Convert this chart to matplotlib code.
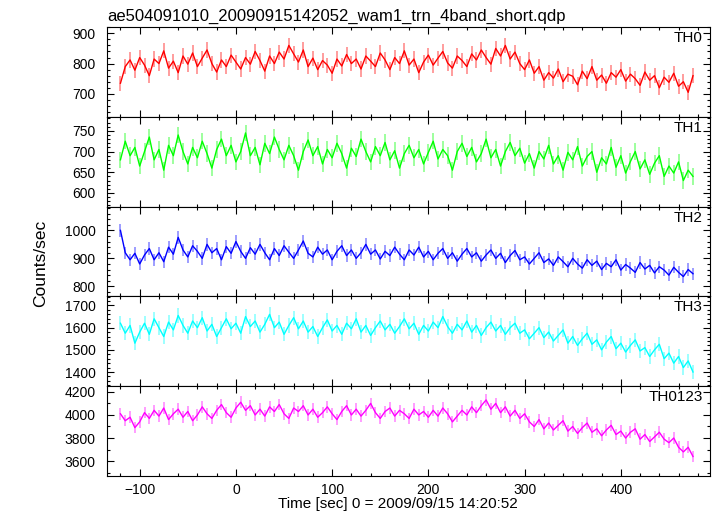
import numpy as np
import matplotlib
matplotlib.use('Agg')
import matplotlib.pyplot as plt
from matplotlib.ticker import MultipleLocator

plt.rcParams['font.family'] = ['Liberation Sans', 'DejaVu Sans']
plt.rcParams['font.size'] = 10

# light curve bins (5 s), start time in seconds
t_start = -120.0
t_bin = 5.0

th0 = [735, 790, 812, 778, 820, 795, 760, 815, 800, 842, 785, 808, 770, 825, 798, 835,
       790, 818, 845, 800, 772, 812, 790, 828, 805, 782, 820, 798, 840, 810, 775, 825,
       800, 838, 815, 860, 832, 805, 845, 790, 818, 780, 810, 795, 768, 815, 792, 830,
       800, 815, 782, 825, 808, 790, 835, 812, 780, 820, 800, 842, 795, 815, 770, 805,
       828, 795, 818, 840, 802, 785, 825, 810, 790, 832, 812, 845, 820, 798, 850, 825,
       860, 815, 838, 800, 780, 812, 768, 790, 745, 770, 752, 782, 740, 765, 758, 730,
       775, 750, 790, 745, 762, 735, 770, 755, 780, 742, 765, 750, 728, 772, 745, 760,
       720, 755, 738, 768, 725, 740, 705, 760]

th1 = [680, 725, 690, 710, 665, 700, 735, 680, 705, 655, 715, 690, 740, 700, 670, 710,
       685, 725, 695, 660, 705, 730, 690, 715, 675, 700, 745, 690, 710, 668, 720, 695,
       735, 705, 680, 715, 690, 655, 700, 728, 690, 712, 670, 705, 685, 720, 695, 660,
       708, 688, 730, 700, 675, 712, 690, 722, 680, 702, 660, 695, 715, 685, 705, 670,
       698, 725, 682, 705, 690, 655, 700, 720, 688, 710, 675, 695, 730, 685, 705, 665,
       700, 722, 690, 708, 672, 695, 660, 700, 682, 715, 670, 690, 655, 698, 680, 712,
       665, 688, 700, 650, 685, 670, 710, 662, 690, 648, 676, 700, 658, 680, 645, 672,
       690, 640, 665, 648, 675, 630, 655, 640]

th2 = [1000, 920, 895, 918, 880, 912, 935, 895, 920, 888, 940, 915, 975, 930, 905, 945,
       925, 900, 950, 920, 935, 895, 942, 918, 960, 925, 900, 938, 915, 950, 920, 895,
       935, 910, 945, 922, 900, 930, 962, 918, 905, 940, 915, 930, 895, 925, 945, 910,
       930, 900, 920, 950, 915, 930, 898, 925, 910, 940, 915, 895, 930, 912, 940, 905,
       925, 895, 918, 935, 900, 920, 890, 915, 935, 905, 920, 890, 912, 930, 900, 918,
       885, 910, 928, 895, 905, 880, 900, 920, 885, 898, 875, 905, 888, 870, 900, 880,
       865, 895, 875, 890, 860, 882, 870, 895, 858, 878, 865, 850, 885, 862, 875, 848,
       870, 858, 840, 868, 850, 835, 860, 845]

th3 = [1620, 1575, 1610, 1530, 1580, 1620, 1570, 1640, 1600, 1560, 1625, 1590, 1655, 1610, 1575, 1630,
       1600, 1645, 1585, 1615, 1560, 1600, 1640, 1595, 1620, 1575, 1650, 1605, 1630, 1580, 1615, 1660,
       1600, 1625, 1570, 1610, 1645, 1595, 1630, 1580, 1605, 1560, 1600, 1635, 1585, 1610, 1570, 1620,
       1595, 1640, 1580, 1610, 1565, 1600, 1630, 1590, 1615, 1575, 1605, 1640, 1595, 1620, 1570, 1610,
       1585, 1625, 1600, 1650, 1605, 1575, 1615, 1590, 1630, 1580, 1610, 1565, 1600, 1625, 1585, 1610,
       1570, 1600, 1620, 1575, 1590, 1550, 1575, 1600, 1555, 1580, 1540, 1565, 1590, 1530, 1560, 1520,
       1550, 1575, 1525, 1545, 1500, 1535, 1560, 1505, 1530, 1490, 1520, 1545, 1495, 1510, 1470, 1500,
       1525, 1460, 1485, 1440, 1470, 1420, 1450, 1400]

th0123 = [4010, 3950, 3980, 3890, 3940, 4020, 3970, 4040, 3990, 4060, 3960, 4010, 4050, 3980, 4030, 3950,
          4000, 4070, 4010, 3970, 4040, 4090, 4020, 3980, 4060, 4110, 4040, 4080, 4000, 4050, 3990, 4070,
          4030, 4090, 4010, 3970, 4060, 4030, 4080, 4000, 4050, 3980, 4020, 4070, 4010, 3960, 4030, 4080,
          4000, 4050, 3990, 4040, 4100, 4020, 3970, 4030, 4060, 3990, 4040, 4010, 3970, 4050, 4000, 4030,
          3980, 4040, 3990, 4060, 4010, 3940, 3990, 4040, 4000, 4070, 4020, 4080, 4130, 4050, 4100, 4020,
          4070, 3990, 4040, 3970, 4010, 3940, 3900, 3960, 3880, 3930, 3870, 3910, 3950, 3860, 3900, 3840,
          3890, 3930, 3850, 3880, 3820, 3870, 3910, 3830, 3860, 3800, 3850, 3880, 3790, 3830, 3770, 3810,
          3850, 3790, 3760, 3800, 3720, 3680, 3720, 3640]

series = [th0, th1, th2, th3, th0123]
names = ['TH0', 'TH1', 'TH2', 'TH3', 'TH0123']
errors = [25, 20, 22, 32, 50]
colors = ['#ff0000', '#00ff00', '#0000ff', '#00ffff', '#ff00ff']
ylims = [(624, 921), (567, 784), (764, 1085), (1336, 1741), (3471, 4249)]
majors = [100, 50, 100, 100, 200]
minors = [20, 10, 20, 20, 100]

fig, axes = plt.subplots(5, 1, sharex=True, figsize=(7.17, 5.16), dpi=100)
fig.subplots_adjust(left=0.1492, right=0.990, top=0.9477, bottom=0.0775, hspace=0)

for ax, vals, name, err, col, yl, mj, mn in zip(axes, series, names, errors, colors,
                                                  ylims, majors, minors):
    vals = np.array(vals, dtype=float)
    t = t_start + t_bin * np.arange(len(vals))
    ax.errorbar(t, vals, yerr=err, fmt='none', ecolor=col, alpha=0.45,
                elinewidth=1.2, zorder=1)
    ax.plot(t, vals, color=col, lw=1.0, zorder=2)
    ax.set_ylim(*yl)
    ax.yaxis.set_major_locator(MultipleLocator(mj))
    ax.yaxis.set_minor_locator(MultipleLocator(mn))
    ax.text(0.988, 0.955, name, transform=ax.transAxes, ha='right', va='top', fontsize=11)
    ax.tick_params(which='both', direction='in', top=True, right=True, labelsize=10)
    ax.tick_params(which='major', length=5, width=0.8)
    ax.tick_params(which='minor', length=2.5, width=0.8)
    ax.tick_params(axis='y', pad=8)
    ax.tick_params(axis='x', pad=5)
    for s in ax.spines.values():
        s.set_linewidth(0.8)

axes[-1].set_xlim(-134, 492.5)
axes[-1].xaxis.set_major_locator(MultipleLocator(100))
axes[-1].xaxis.set_minor_locator(MultipleLocator(20))

fig.text(0.1492, 1 - 21 / 516, 'ae504091010_20090915142052_wam1_trn_4band_short.qdp',
         ha='left', va='baseline', fontsize=12)
fig.text(41 / 717, 1 - 263 / 516, 'Counts/sec', rotation=90, ha='center', va='center',
         fontsize=12.5)
fig.text(397.5 / 717, 1 - 508 / 516, 'Time [sec] 0 = 2009/09/15 14:20:52',
         ha='center', va='baseline', fontsize=11)

fig.savefig('out.png', dpi=100)
